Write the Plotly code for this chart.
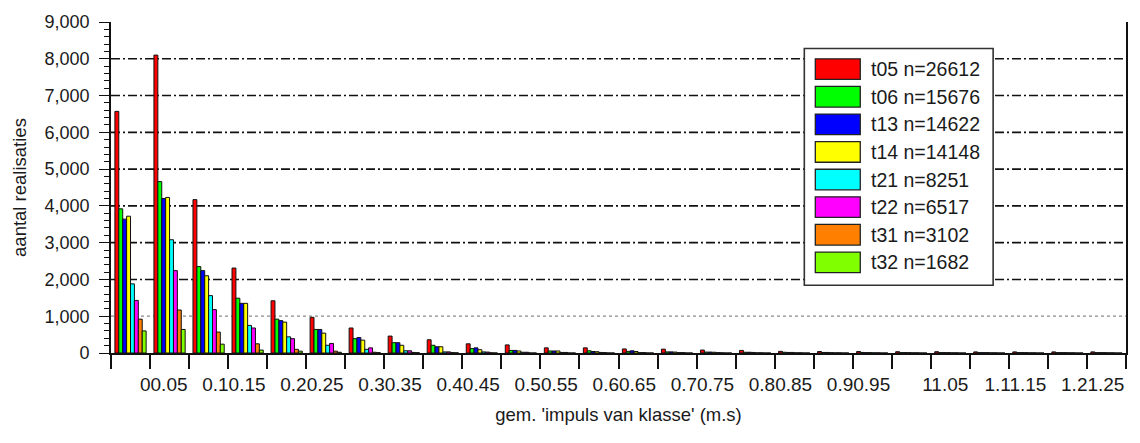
import plotly.graph_objects as go

# ---------------- data ----------------
bins = [0, 0.05, 0.1, 0.15, 0.2, 0.25, 0.3, 0.35, 0.4, 0.45, 0.5, 0.55, 0.6,
        0.65, 0.7, 0.75, 0.8, 0.85, 0.9, 0.95, 1.0, 1.05, 1.1, 1.15, 1.2, 1.25]

tick_labels = ["00.05", "0.10.15", "0.20.25", "0.30.35", "0.40.45", "0.50.55",
               "0.60.65", "0.70.75", "0.80.85", "0.90.95", "11.05", "1.11.15",
               "1.21.25"]

series_names = ["t05", "t06", "t13", "t14", "t21", "t22", "t31", "t32"]
series_counts = [26612, 15676, 14622, 14148, 8251, 6517, 3102, 1682]
series_colors = ["#FF0000", "#00FF00", "#0000FF", "#FFFF00",
                 "#00FFFF", "#FF00FF", "#FF8000", "#80FF00"]

t05 = [6570, 8100, 4170, 2310, 1420, 970, 680, 460, 360, 250, 220, 140, 140,
       110, 105, 80, 70, 45, 40, 40, 35, 35, 30, 30, 30, 30]
t06 = [3920, 4660, 2350, 1490, 920, 640, 390, 280, 210, 120, 70, 55, 60,
       45, 30, 25, 20, 20, 15, 15, 10, 10, 10, 10, 10, 10]
t13 = [3640, 4200, 2240, 1350, 880, 640, 420, 280, 170, 140, 70, 55, 40,
       60, 30, 25, 20, 15, 15, 10, 10, 10, 10, 10, 10, 10]
t14 = [3720, 4230, 2100, 1350, 840, 540, 350, 210, 170, 90, 55, 55, 35,
       40, 25, 20, 15, 15, 10, 10, 10, 10, 10, 10, 10, 10]
t21 = [1880, 3080, 1560, 750, 440, 210, 100, 60, 30, 30, 20, 15, 15,
       10, 10, 10, 5, 5, 5, 5, 5, 5, 5, 5, 5, 5]
t22 = [1430, 2240, 1180, 680, 390, 260, 140, 60, 30, 25, 20, 15, 10,
       10, 10, 5, 5, 5, 5, 5, 5, 5, 5, 5, 5, 5]
t31 = [920, 1170, 570, 250, 100, 50, 20, 15, 10, 5, 0, 0, 0,
       0, 0, 0, 0, 0, 0, 0, 0, 0, 0, 0, 0, 0]
t32 = [600, 640, 240, 80, 50, 20, 10, 10, 5, 0, 0, 0, 0,
       0, 0, 0, 0, 0, 0, 0, 0, 0, 0, 0, 0, 0]

series_values = [t05, t06, t13, t14, t21, t22, t31, t32]

y_ticks = [0, 1000, 2000, 3000, 4000, 5000, 6000, 7000, 8000, 9000]

# ---------------- figure ----------------
FONT = "Liberation Sans, Arial, sans-serif"
TXT = "#1a1a1a"

fig = go.Figure()
for name, cnt, col, vals in zip(series_names, series_counts, series_colors, series_values):
    fig.add_trace(go.Bar(
        x=bins, y=vals, name=f"{name} n={cnt}",
        marker=dict(color=col, line=dict(color="#111111", width=1)),
        showlegend=False,
    ))

half = (bins[1] - bins[0]) / 2
tick_pos = [b - half for b in bins] + [bins[-1] + half]
tick_txt = [""] * len(tick_pos)
for k, lab in enumerate(tick_labels):
    tick_txt[2 * (k + 1)] = lab

# geometry of the plot area (pixels)
W, H = 1140, 443
ML, MR, MT, MB = 111, 13, 16, 90
PW, PH = W - ML - MR, H - MT - MB

shapes = []
# grid lines
for v in y_ticks[1:-1]:
    if v == 1000:
        ln = dict(color="#8a8a8a", width=1.2, dash="dot")
    else:
        ln = dict(color="#111111", width=1.6, dash="9px,3px,2px,3px")
    shapes.append(dict(type="line", xref="paper", x0=0, x1=1, yref="y", y0=v, y1=v,
                       line=ln, layer="below"))

# manual legend (box, swatches, labels)
def px_x(x):
    return (x - ML) / PW

def px_y(y):
    return (H - MB - y) / PH

shapes.append(dict(type="rect", xref="paper", yref="paper",
                   x0=px_x(805), x1=px_x(994), y0=px_y(284), y1=px_y(43),
                   fillcolor="white", line=dict(color="#333333", width=1.6),
                   layer="above"))
annotations = []
for i, (name, cnt, col) in enumerate(zip(series_names, series_counts, series_colors)):
    cy = 64 + i * 28.1
    shapes.append(dict(type="rect", xref="paper", yref="paper",
                       x0=px_x(816), x1=px_x(861), y0=px_y(cy + 10.5), y1=px_y(cy - 10.5),
                       fillcolor=col, line=dict(color="#222222", width=1.3),
                       layer="above"))
    annotations.append(dict(xref="paper", yref="paper", x=px_x(870), y=px_y(cy),
                            xanchor="left", yanchor="middle", showarrow=False,
                            text=f"{name} n={cnt}",
                            font=dict(family=FONT, size=19.5, color=TXT)))

fig.update_layout(
    width=W, height=H,
    margin=dict(l=ML, r=MR, t=MT, b=MB, pad=0),
    paper_bgcolor="white", plot_bgcolor="white",
    barmode="group", bargap=0.2, bargroupgap=0.0,
    font=dict(family=FONT, color=TXT),
    shapes=shapes, annotations=annotations,
    showlegend=False,
)

fig.update_xaxes(
    range=[bins[0] - half, bins[-1] + half],
    tickmode="array", tickvals=tick_pos, ticktext=tick_txt,
    ticks="outside", ticklen=14, tickwidth=1.5, tickcolor="#111111",
    ticklabelposition="outside left", ticklabelstandoff=13,
    tickfont=dict(family=FONT, size=19, color=TXT),
    showline=True, linecolor="#111111", linewidth=1.6,
    showgrid=False, zeroline=False,
    title=dict(text="gem. 'impuls van klasse' (m.s)",
               font=dict(family=FONT, size=18.5, color=TXT), standoff=14),
)

fig.update_yaxes(
    range=[0, 9000],
    tickmode="array", tickvals=y_ticks, tickformat=",",
    ticks="outside", ticklen=10, tickwidth=1.3, tickcolor="#111111",
    ticklabelstandoff=6,
    minor=dict(ticks="outside", dtick=200, ticklen=5, tickwidth=1, tickcolor="#111111", showgrid=False),
    tickfont=dict(family=FONT, size=18, color=TXT),
    showline=True, linecolor="#111111", linewidth=1.6, mirror=True,
    showgrid=False, zeroline=False,
    title=dict(text="aantal realisaties", font=dict(family=FONT, size=18.5, color=TXT), standoff=13),
)

fig.write_html("out.html", config={"displayModeBar": False},
               post_script="document.body.style.margin='0';")
